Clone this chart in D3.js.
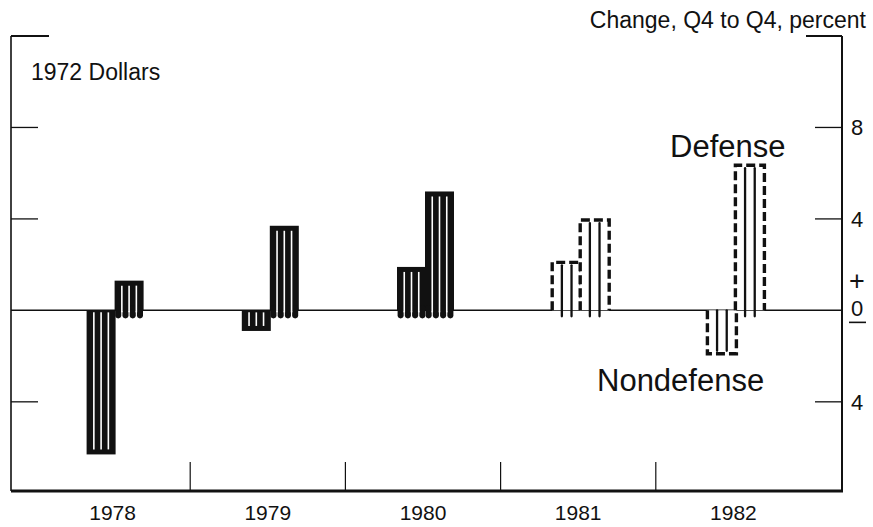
<!DOCTYPE html>
<html>
<head>
<meta charset="utf-8">
<script src="https://d3js.org/d3.v7.min.js"></script>
<style>
  body { margin: 0; background: #fff; }
  text { font-family: "Liberation Sans", Arial, Helvetica, sans-serif; fill: #111; }
</style>
</head>
<body>
<script>
// values (percent change, Q4 to Q4, 1972 dollars)
const years = ["1978", "1979", "1980", "1981", "1982"];
const series = ["Nondefense", "Defense"];
const nondefense = [-6.3, -0.9, 1.9, 2.1, -1.9];
const defense = [1.3, 3.7, 5.2, 3.95, 6.35];
const projected = ["1981", "1982"];
const yTicks = [8, 4, -4];
const yTickLabels = ["8", "4", "4"];

const width = 873, height = 527;
const frameL = 11, frameR = 842;

const svg = d3.select("body").append("svg")
  .attr("width", width)
  .attr("height", height);

const x = d3.scaleBand().domain(years).range([35, 811]);
const xs = d3.scaleBand().domain(series).range([-26, 30]);
const y = d3.scaleLinear().domain([-7.9, 12]).range([491, 36]);

const y0 = y(0);
const ink = "#111";

// frame
svg.append("line")
  .attr("x1", frameL).attr("x2", frameL)
  .attr("y1", y(12)).attr("y2", y(-7.9))
  .attr("stroke", ink).attr("stroke-width", 1.6);
svg.append("line")
  .attr("x1", frameR).attr("x2", frameR)
  .attr("y1", y(12)).attr("y2", y(-7.9))
  .attr("stroke", ink).attr("stroke-width", 2);
svg.append("line")
  .attr("x1", frameL).attr("x2", frameL + 38)
  .attr("y1", y(12)).attr("y2", y(12))
  .attr("stroke", ink).attr("stroke-width", 2);
svg.append("line")
  .attr("x1", frameR - 36).attr("x2", frameR)
  .attr("y1", y(12)).attr("y2", y(12))
  .attr("stroke", ink).attr("stroke-width", 2);

// bottom axis
svg.append("line")
  .attr("x1", frameL).attr("x2", frameR + 1)
  .attr("y1", y(-7.9)).attr("y2", y(-7.9))
  .attr("stroke", ink).attr("stroke-width", 3);

svg.selectAll(".divider")
  .data(years.slice(1))
  .enter().append("line")
  .attr("class", "divider")
  .attr("x1", d => x(d)).attr("x2", d => x(d))
  .attr("y1", y(-7.9) - 29).attr("y2", y(-7.9))
  .attr("stroke", ink).attr("stroke-width", 1.2);

svg.selectAll(".year")
  .data(years)
  .enter().append("text")
  .attr("class", "year")
  .attr("x", d => x(d) + x.bandwidth() / 2)
  .attr("y", 520)
  .attr("text-anchor", "middle")
  .style("font-size", "21px")
  .text(d => d);

// y ticks, both sides
svg.selectAll(".ltick")
  .data(yTicks)
  .enter().append("line")
  .attr("x1", frameL).attr("x2", frameL + 27)
  .attr("y1", d => y(d)).attr("y2", d => y(d))
  .attr("stroke", ink).attr("stroke-width", 1.3);
svg.selectAll(".rtick")
  .data(yTicks)
  .enter().append("line")
  .attr("x1", frameR - 27).attr("x2", frameR)
  .attr("y1", d => y(d)).attr("y2", d => y(d))
  .attr("stroke", ink).attr("stroke-width", 1.3);
svg.selectAll(".rlabel")
  .data(yTicks)
  .enter().append("text")
  .attr("x", 857)
  .attr("y", d => y(d) + 8)
  .attr("text-anchor", "middle")
  .style("font-size", "22px")
  .text((d, i) => yTickLabels[i]);

// + 0 − marker at zero
svg.append("text").attr("x", 857).attr("y", y0 - 20)
  .attr("text-anchor", "middle").style("font-size", "27px").text("+");
svg.append("text").attr("x", 857).attr("y", y0 + 6)
  .attr("text-anchor", "middle").style("font-size", "22px").text("0");
svg.append("line")
  .attr("x1", 849).attr("x2", 866)
  .attr("y1", y0 + 12).attr("y2", y0 + 12)
  .attr("stroke", ink).attr("stroke-width", 1.6);

// zero line
svg.append("line")
  .attr("x1", frameL).attr("x2", frameR)
  .attr("y1", y0).attr("y2", y0)
  .attr("stroke", ink).attr("stroke-width", 1.5);

// bars
const bars = [];
years.forEach((yr, i) => {
  bars.push({ year: yr, s: "Nondefense", v: nondefense[i], proj: projected.includes(yr) });
  bars.push({ year: yr, s: "Defense", v: defense[i], proj: projected.includes(yr) });
});

const bw = xs.bandwidth() + 1;

bars.forEach(b => {
  const x0 = x(b.year) + x.bandwidth() / 2 + xs(b.s);
  const yv = y(b.v);
  const pos = b.v > 0;
  const g = svg.append("g");

  if (!b.proj) {
    // solid bar with white stripes
    g.append("rect")
      .attr("x", x0).attr("width", bw)
      .attr("y", Math.min(yv, y0)).attr("height", Math.abs(yv - y0))
      .attr("fill", ink);
    const strip = bw / 4;
    if (pos) {
      // little legs under the zero line
      d3.range(4).forEach(k => {
        g.append("line")
          .attr("x1", x0 + strip * (k + 0.5)).attr("x2", x0 + strip * (k + 0.5))
          .attr("y1", y0 - 2).attr("y2", y0 + 5)
          .attr("stroke", ink).attr("stroke-width", strip - 1.2)
          .attr("stroke-linecap", "round");
      });
    }
    d3.range(1, 4).forEach(k => {
      g.append("line")
        .attr("x1", x0 + strip * k).attr("x2", x0 + strip * k)
        .attr("y1", pos ? yv + 5 : y0 + 2)
        .attr("y2", pos ? y0 + 2 : yv - 5)
        .attr("stroke", "#fff").attr("stroke-width", 1.6);
    });
  } else {
    // projected: dashed outline with inner rules
    g.append("path")
      .attr("d", `M${x0},${y0}V${yv}H${x0 + bw}V${y0}`)
      .attr("fill", "#fff")
      .attr("stroke", ink).attr("stroke-width", 3.4)
      .attr("stroke-dasharray", "9,4");
    [1, 2].forEach(k => {
      const xx = x0 + bw * k / 3;
      g.append("line")
        .attr("x1", xx).attr("x2", xx)
        .attr("y1", pos ? yv + 3 : y0)
        .attr("y2", pos ? y0 + 6 : yv - 3)
        .attr("stroke", ink).attr("stroke-width", 2.3)
        .attr("stroke-linecap", "round");
    });
  }
});

// labels
svg.append("text")
  .attr("x", 866).attr("y", 28)
  .attr("text-anchor", "end")
  .style("font-size", "23px")
  .text("Change, Q4 to Q4, percent");

svg.append("text")
  .attr("x", 31).attr("y", 80)
  .style("font-size", "23px")
  .text("1972 Dollars");

svg.append("text")
  .attr("x", 670).attr("y", 157)
  .style("font-size", "31px")
  .text("Defense");

svg.append("text")
  .attr("x", 597).attr("y", 391)
  .style("font-size", "31px")
  .text("Nondefense");
</script>
</body>
</html>
